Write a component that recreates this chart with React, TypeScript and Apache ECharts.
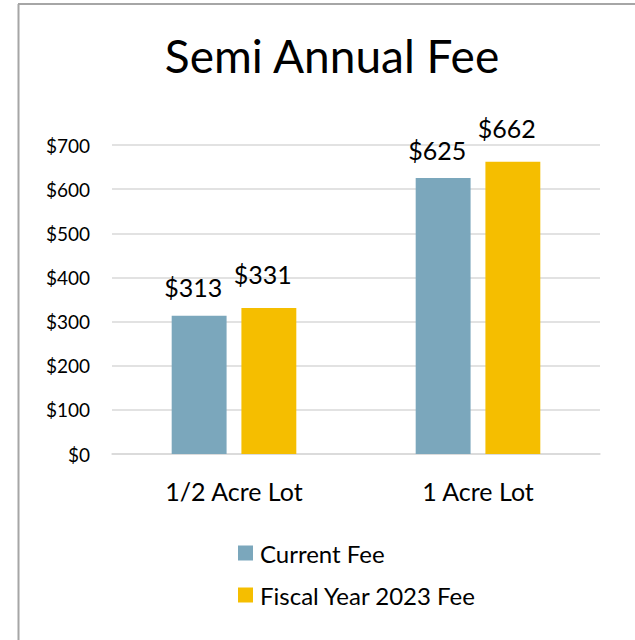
import React, { useEffect, useRef } from "react";
import * as echarts from "echarts";

const categories = ["1/2 Acre Lot", "1 Acre Lot"];
const currentFee = [313, 625];
const fy2023Fee = [331, 662];
const seriesNames = ["Current Fee", "Fiscal Year 2023 Fee"];
const titleText = "Semi Annual Fee";

const FONT = "Lato, 'Open Sans', sans-serif";

export default function App() {
  const ref = useRef<HTMLDivElement>(null);
  useEffect(() => {
    document.body.style.margin = "0";
    const chart = echarts.init(ref.current!, undefined, { renderer: "svg" });
    const labelBase = {
      show: true,
      position: "top" as const,
      fontSize: 25,
      fontFamily: FONT,
      color: "#000",
      formatter: (p: any) => "$" + p.value,
    };
    chart.setOption({
      animation: false,
      backgroundColor: "#fff",
      title: {
        text: titleText,
        left: 327,
        textAlign: "center",
        top: 27,
        textStyle: { fontSize: 46, fontWeight: "normal", fontFamily: FONT, color: "#000" },
      },
      graphic: [
        { type: "line", shape: { x1: 18.5, y1: 4, x2: 18.5, y2: 640 }, style: { stroke: "#a6a6a6", lineWidth: 2 } },
        { type: "line", shape: { x1: 18, y1: 4, x2: 635, y2: 4 }, style: { stroke: "#a6a6a6", lineWidth: 2 } },
      ],
      legend: {
        orient: "vertical",
        left: 233,
        top: 536,
        itemWidth: 15,
        itemHeight: 15,
        itemGap: 18,
        icon: "rect",
        textStyle: { fontSize: 24, fontFamily: FONT, color: "#000", padding: [0, 0, 0, 2] },
        data: seriesNames,
      },
      grid: { left: 112, right: 35, top: 145, bottom: 186, containLabel: false },
      xAxis: {
        type: "category",
        data: categories,
        axisLine: { lineStyle: { color: "#d9d9d9", width: 1.5 } },
        axisTick: { show: false },
        axisLabel: { margin: 24, fontSize: 25, fontFamily: FONT, color: "#000" },
      },
      yAxis: {
        type: "value",
        min: 0,
        max: 700,
        interval: 100,
        axisLine: { show: false },
        axisTick: { show: false },
        splitLine: { lineStyle: { color: "#d9d9d9", width: 1.5 } },
        axisLabel: {
          margin: 22,
          fontSize: 19,
          fontFamily: FONT,
          color: "#000",
          formatter: (v: number) => "$" + v,
        },
      },
      series: [
        {
          name: seriesNames[0],
          type: "bar",
          data: currentFee,
          barWidth: "22.5%",
          barGap: "27%",
          itemStyle: { color: "#7BA7BC" },
          label: { ...labelBase, distance: 16, offset: [-6, 0] },
        },
        {
          name: seriesNames[1],
          type: "bar",
          data: fy2023Fee,
          barWidth: "22.5%",
          itemStyle: { color: "#F5BE00" },
          label: { ...labelBase, distance: 21, offset: [-6, 0] },
        },
      ],
    });
    return () => chart.dispose();
  }, []);
  return <div ref={ref} style={{ width: 635, height: 640 }} />;
}
